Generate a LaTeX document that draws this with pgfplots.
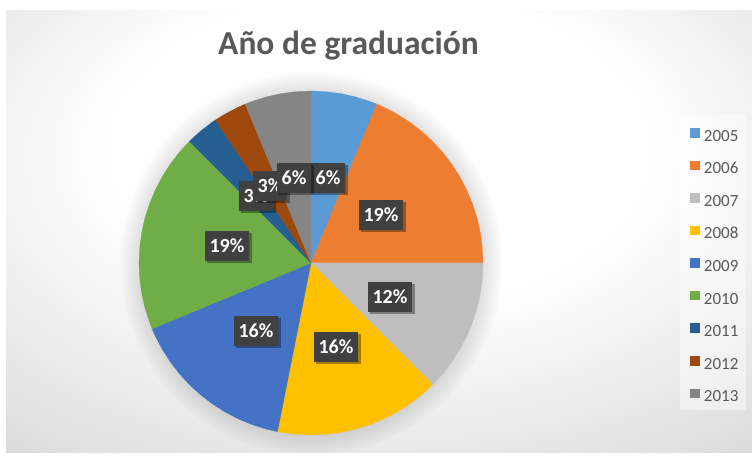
\documentclass[border=0pt]{standalone}
\usepackage{fontspec}
\setmainfont{Carlito}
\usepackage{pgfplots}
\pgfplotsset{compat=1.18}
\usetikzlibrary{shadows,fadings}
\definecolor{c05}{HTML}{5B9BD5}
\definecolor{c06}{HTML}{ED7D31}
\definecolor{c07}{HTML}{BEBEBE}
\definecolor{c08}{HTML}{FFC000}
\definecolor{c09}{HTML}{4472C4}
\definecolor{c10}{HTML}{70AD47}
\definecolor{c11}{HTML}{255E91}
\definecolor{c12}{HTML}{9E480E}
\definecolor{c13}{HTML}{858585}
\definecolor{txtgray}{HTML}{595959}
\definecolor{lblbg}{HTML}{404040}
\pgfdeclareradialshading{bgshade}{\pgfpoint{0bp}{12bp}}{%
  color(0bp)=(white); color(18bp)=(white); color(40bp)=(black!14); color(60bp)=(black!21); color(80bp)=(black!23)}
\tikzset{lbl/.style={fill=lblbg, text=white, font=\bfseries\fontsize{20}{24}\selectfont,
    inner xsep=5pt, inner ysep=8.5pt, text height=13pt, text depth=0pt,
    drop shadow={shadow xshift=2.5pt, shadow yshift=-2.5pt, opacity=0.35, fill=black}}}
\begin{document}
\begin{tikzpicture}[x=1pt,y=1pt]
\fill[white] (0,0) rectangle (752,455);
\shade[shading=bgshade] (6,3) rectangle (752,444);
\fill[white, opacity=0.45] (680,45) rectangle (746,340);
\fill[black, opacity=0.22, path fading=circle with fuzzy edge 20 percent] (311,192) circle (192);
\begin{axis}[
  at={(0,0)}, anchor=south west,
  scale only axis, width=752pt, height=455pt,
  xmin=-311, xmax=441, ymin=-192, ymax=263,
  hide axis, clip=false,
  legend image code/.code={\fill[#1] (0pt,-1pt) rectangle (8.5pt,7.5pt);},
  legend cell align=left,
  legend style={at={(axis cs:379,135)}, anchor=north west, draw=none, fill=none,
    inner sep=0pt, row sep=19.45pt, column sep=5pt,
    font=\fontsize{17}{20}\selectfont, text=txtgray,
    nodes={inner sep=0pt, text height=11pt, text depth=0pt}},
]
\addplot[fill=c05, draw=c05, line width=0.2pt, data cs=polar] coordinates {
 (0,0) (90,172) (85,172) (80,172) (75,172) (70,172) (67.5,172)} --cycle;
\addlegendentry{2005}
\addplot[fill=c06, draw=c06, line width=0.2pt, data cs=polar] coordinates {
 (0,0) (67.5,172) (65,172) (60,172) (55,172) (50,172) (45,172) (40,172) (35,172)
 (30,172) (25,172) (20,172) (15,172) (10,172) (5,172) (0,172)} --cycle;
\addlegendentry{2006}
\addplot[fill=c07, draw=c07, line width=0.2pt, data cs=polar] coordinates {
 (0,0) (0,172) (-5,172) (-10,172) (-15,172) (-20,172) (-25,172) (-30,172)
 (-35,172) (-40,172) (-45,172)} --cycle;
\addlegendentry{2007}
\addplot[fill=c08, draw=c08, line width=0.2pt, data cs=polar] coordinates {
 (0,0) (-45,172) (-50,172) (-55,172) (-60,172) (-65,172) (-70,172) (-75,172)
 (-80,172) (-85,172) (-90,172) (-95,172) (-100,172) (-101.25,172)} --cycle;
\addlegendentry{2008}
\addplot[fill=c09, draw=c09, line width=0.2pt, data cs=polar] coordinates {
 (0,0) (-101.25,172) (-105,172) (-110,172) (-115,172) (-120,172) (-125,172)
 (-130,172) (-135,172) (-140,172) (-145,172) (-150,172) (-155,172) (-157.5,172)} --cycle;
\addlegendentry{2009}
\addplot[fill=c10, draw=c10, line width=0.2pt, data cs=polar] coordinates {
 (0,0) (-157.5,172) (-160,172) (-165,172) (-170,172) (-175,172) (-180,172)
 (-185,172) (-190,172) (-195,172) (-200,172) (-205,172) (-210,172) (-215,172)
 (-220,172) (-225,172)} --cycle;
\addlegendentry{2010}
\addplot[fill=c11, draw=c11, line width=0.2pt, data cs=polar] coordinates {
 (0,0) (-225,172) (-230,172) (-235,172) (-236.25,172)} --cycle;
\addlegendentry{2011}
\addplot[fill=c12, draw=c12, line width=0.2pt, data cs=polar] coordinates {
 (0,0) (-236.25,172) (-240,172) (-245,172) (-247.5,172)} --cycle;
\addlegendentry{2012}
\addplot[fill=c13, draw=c13, line width=0.2pt, data cs=polar] coordinates {
 (0,0) (-247.5,172) (-250,172) (-255,172) (-260,172) (-265,172) (-270,172)} --cycle;
\addlegendentry{2013}
\node[lbl] at (axis cs:17,85) {6\%};
\node[lbl] at (axis cs:70,48) {19\%};
\node[lbl] at (axis cs:79,-34) {12\%};
\node[lbl] at (axis cs:25,-84) {16\%};
\node[lbl] at (axis cs:-55,-68) {16\%};
\node[lbl] at (axis cs:-84,17) {19\%};
\node[lbl] at (axis cs:-55,67) {3\%};
\node[lbl] at (axis cs:-41,77) {3\%};
\node[lbl] at (axis cs:-17,85) {6\%};
\end{axis}
\node[font=\bfseries\fontsize{33.5}{40}\selectfont, text=txtgray, anchor=base] at (348.5,400) {Año de graduación};
\end{tikzpicture}
\end{document}
